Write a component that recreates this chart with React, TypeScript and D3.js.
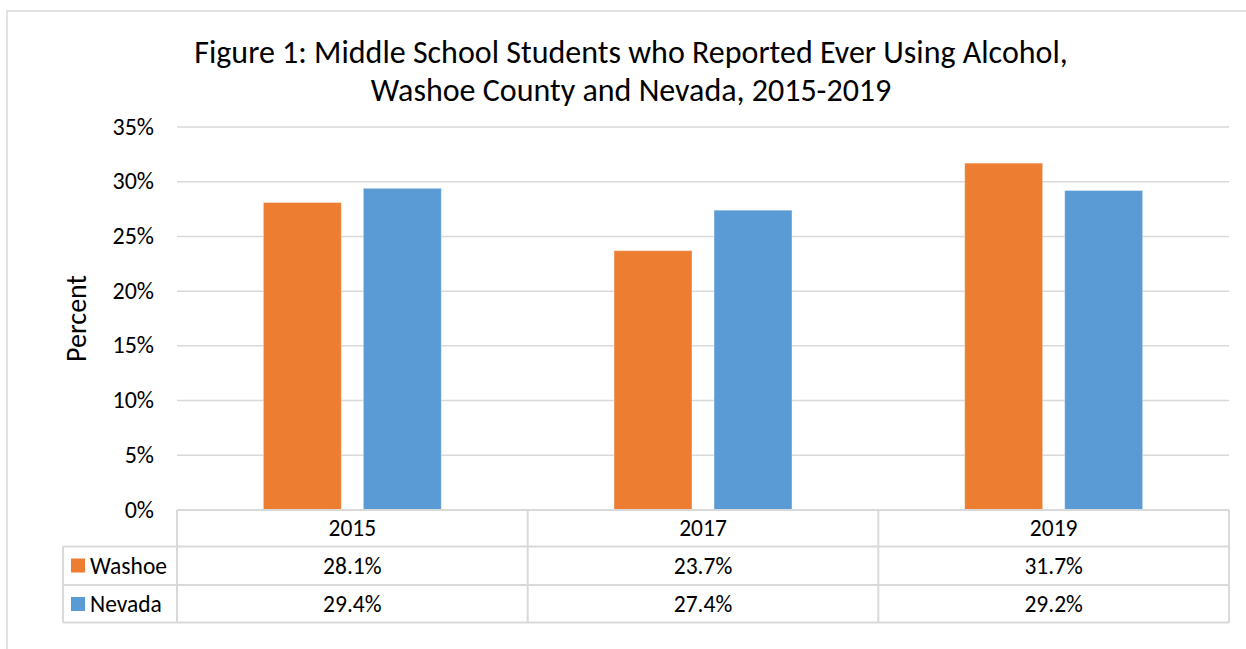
import React from "react";
import * as d3 from "d3";

const categories = ["2015", "2017", "2019"];
const seriesNames = ["Washoe", "Nevada"];
const washoe = [28.1, 23.7, 31.7];
const nevada = [29.4, 27.4, 29.2];
const yTicks = [0, 5, 10, 15, 20, 25, 30, 35];
const colors = ["#ED7D31", "#5B9BD5"];
const titleLines = [
  "Figure 1: Middle School Students who Reported Ever Using Alcohol,",
  "Washoe County and Nevada, 2015-2019",
];

const FONT = "Carlito, Calibri, 'Open Sans', sans-serif";
const GRID = "#d9d9d9";

export default function App() {
  const W = 1246, H = 649;
  const left = 177, right = 1229, top = 127, bottom = 510;
  const rowH = [36.5, 38.5, 37.5];
  const legendLeft = 63;
  const fs = 23.5;

  const x = d3.scaleBand<string>().domain(categories).range([left, right]).padding(0);
  const sub = d3
    .scaleBand<string>()
    .domain(seriesNames)
    .range([0, x.bandwidth()])
    .paddingInner(0.22)
    .paddingOuter(0.8635);
  const y = d3.scaleLinear().domain([0, 35]).range([bottom, top]);
  const series = [washoe, nevada];

  const rowTops = [bottom, bottom + rowH[0], bottom + rowH[0] + rowH[1]];
  const tableBottom = bottom + rowH[0] + rowH[1] + rowH[2];

  return (
    <svg width={W} height={H} style={{ position: "absolute", left: 0, top: 0 }}>
      <rect x={0} y={0} width={W} height={H} fill="#fff" />
      {/* outer chart border */}
      <rect x={7} y={11} width={W + 10} height={H + 10} fill="none" stroke={GRID} strokeWidth={1.5} />

      {/* title */}
      {titleLines.map((t, i) => (
        <text key={i} x={631} y={63 + i * 38} textAnchor="middle" fontFamily={FONT} fontSize={32} fill="#000">
          {t}
        </text>
      ))}

      {/* gridlines */}
      {yTicks.map((t) =>
        t === 0 ? null : (
          <line key={t} x1={left} x2={right} y1={y(t)} y2={y(t)} stroke={GRID} strokeWidth={1.5} />
        )
      )}
      {/* y tick labels */}
      {yTicks.map((t) => (
        <text key={"l" + t} x={154} y={y(t) + 7.5} textAnchor="end" fontFamily={FONT} fontSize={24} fill="#000">
          {t + "%"}
        </text>
      ))}
      {/* y axis title */}
      <text
        transform={`translate(86, ${(top + bottom) / 2}) rotate(-90)`}
        textAnchor="middle"
        fontFamily={FONT}
        fontSize={28}
        fill="#000"
      >
        Percent
      </text>

      {/* bars */}
      {categories.map((c, ci) =>
        seriesNames.map((s, si) => {
          const v = series[si][ci];
          const bx = (x(c) as number) + (sub(s) as number);
          return (
            <rect
              key={c + s}
              x={bx}
              y={y(v)}
              width={sub.bandwidth()}
              height={bottom - y(v)}
              fill={colors[si]}
              stroke="#fff"
              strokeOpacity={0.4}
              strokeWidth={1}
            />
          );
        })
      )}

      {/* data table */}
      <line x1={left} x2={right} y1={bottom} y2={bottom} stroke={GRID} strokeWidth={2} />
      {[rowTops[1], rowTops[2], tableBottom].map((yy, i) => (
        <line key={"h" + i} x1={legendLeft} x2={right} y1={yy} y2={yy} stroke={GRID} strokeWidth={2} />
      ))}
      <line x1={legendLeft} x2={legendLeft} y1={rowTops[1]} y2={tableBottom} stroke={GRID} strokeWidth={2} />
      {[left, ...categories.map((c) => (x(c) as number) + x.bandwidth())].map((xx, i) => (
        <line key={"v" + i} x1={xx} x2={xx} y1={bottom} y2={tableBottom} stroke={GRID} strokeWidth={2} />
      ))}
      {categories.map((c) => (
        <text
          key={"h" + c}
          x={(x(c) as number) + x.bandwidth() / 2}
          y={rowTops[0] + 26}
          textAnchor="middle"
          fontFamily={FONT}
          fontSize={fs}
          fill="#000"
        >
          {c}
        </text>
      ))}
      {seriesNames.map((s, si) => (
        <g key={"r" + s}>
          <rect x={71} y={rowTops[si + 1] + 12} width={14} height={14} fill={colors[si]} />
          <text x={90} y={rowTops[si + 1] + 27} fontFamily={FONT} fontSize={fs} fill="#000">
            {s}
          </text>
          {categories.map((c, ci) => (
            <text
              key={c}
              x={(x(c) as number) + x.bandwidth() / 2}
              y={rowTops[si + 1] + 27}
              textAnchor="middle"
              fontFamily={FONT}
              fontSize={fs}
              fill="#000"
            >
              {series[si][ci].toFixed(1) + "%"}
            </text>
          ))}
        </g>
      ))}
    </svg>
  );
}
